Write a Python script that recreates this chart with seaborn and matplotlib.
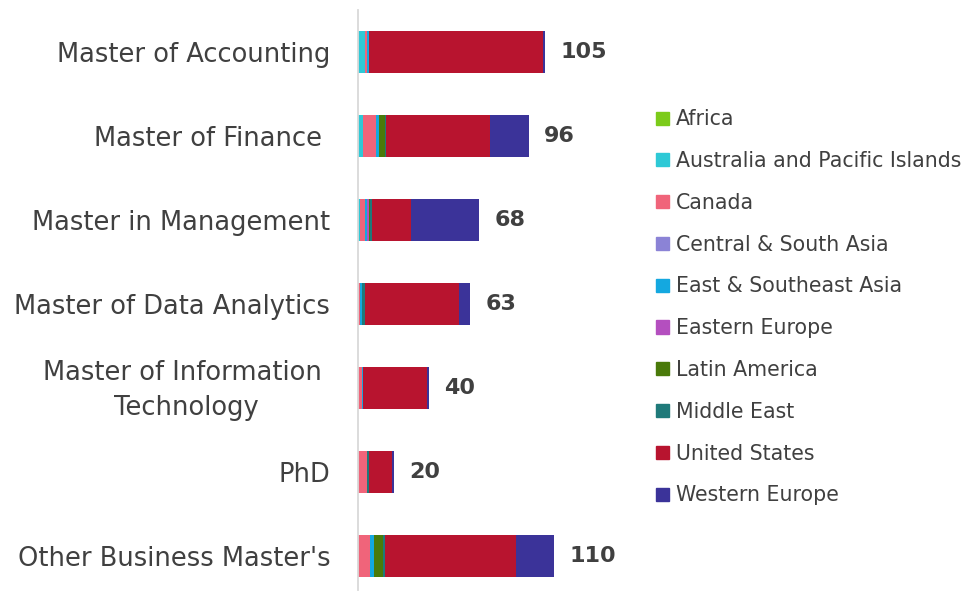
import matplotlib
matplotlib.use('Agg')
import matplotlib.pyplot as plt
import matplotlib.patches as mpatches
import matplotlib.transforms as mtransforms
import seaborn as sns
import pandas as pd
import numpy as np

sns.set_style('white')
plt.rcParams['font.family'] = ['DejaVu Sans']

programs = ['Master of Accounting', 'Master of Finance ', 'Master in Management',
            'Master of Data Analytics', 'Master of Information \nTechnology', 'PhD',
            "Other Business Master's"]
regions = ['Africa', 'Australia and Pacific Islands', 'Canada', 'Central & South Asia',
           'East & Southeast Asia', 'Eastern Europe', 'Latin America', 'Middle East',
           'United States', 'Western Europe']
colors = ['#7CCB1A', '#2EC9D6', '#F0647A', '#8B83D6', '#14A8E0', '#B44FBF',
          '#4A7A0A', '#1F7A7A', '#B8142F', '#3B3399']

africa       = [0, 0, 0, 0, 0, 0, 0]
australia    = [4, 3, 1, 0, 0, 0, 0]
canada       = [1, 7, 3, 1, 2, 5, 7]
central_asia = [0, 0, 0, 0, 0, 0, 0]
east_asia    = [1, 2, 1, 1, 1, 0, 2]
east_europe  = [0, 0, 1, 0, 0, 0, 0]
latin_am     = [0, 3, 1, 0, 0, 0, 5]
middle_east  = [0, 1, 1, 2, 0, 1, 1]
usa          = [98, 58, 22, 53, 36, 13, 74]
west_europe  = [1, 22, 38, 6, 1, 1, 21]

df = pd.DataFrame({
    'Africa': africa, 'Australia and Pacific Islands': australia, 'Canada': canada,
    'Central & South Asia': central_asia, 'East & Southeast Asia': east_asia,
    'Eastern Europe': east_europe, 'Latin America': latin_am, 'Middle East': middle_east,
    'United States': usa, 'Western Europe': west_europe}, index=programs)
cum = df.cumsum(axis=1)
totals = df.sum(axis=1)

fig = plt.figure(figsize=(9.69, 5.93), dpi=100)
ax = fig.add_axes([358/969, 3/593, 267/969, 580/593])

# stacked bars: draw cumulative totals from the outermost segment inwards
for reg, col in reversed(list(zip(regions, colors))):
    d = pd.DataFrame({'program': programs, 'value': cum[reg].values})
    sns.barplot(data=d, x='value', y='program', color=col, width=0.5,
                saturation=1, linewidth=0, ax=ax, orient='h')

for i, t in enumerate(totals):
    ax.annotate(str(t), (t, i), xytext=(11, 0), textcoords='offset points',
                ha='left', va='center', fontsize=16, fontweight='bold', color='#404040')

ax.set_xlim(0, 150)
ax.set_ylim(6.4, -0.5)
ax.set_xlabel('')
ax.set_ylabel('')
ax.set_xticks([])
for s in ['top', 'right', 'bottom']:
    ax.spines[s].set_visible(False)
ax.spines['left'].set_color('#d9d9d9')
ax.spines['left'].set_linewidth(1.3)
ax.tick_params(axis='y', length=0, pad=20, labelsize=18.5, labelcolor='#404040')
for lab in ax.get_yticklabels():
    lab.set_multialignment('center')
    lab.set_linespacing(1.45)
    if '\n' in lab.get_text():
        lab.set_transform(lab.get_transform() +
                          mtransforms.ScaledTranslation(0, 4/72, fig.dpi_scale_trans))

handles = [mpatches.Patch(color=c, label=r) for r, c in zip(regions, colors)]
fig.legend(handles=handles, loc='upper left', bbox_to_anchor=(646/969, 1 - 99/593),
           frameon=False, fontsize=14.8, handlelength=0.6, handleheight=0.6,
           handletextpad=0.35, labelspacing=1.06, borderpad=0, labelcolor='#404040')

fig.savefig('out.png', dpi=100)
